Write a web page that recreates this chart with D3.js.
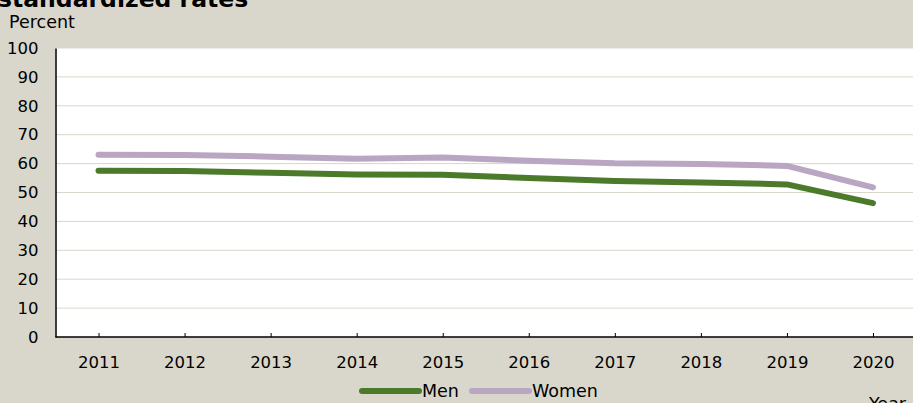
<!DOCTYPE html>
<html>
<head>
<meta charset="utf-8">
<script src="https://cdn.jsdelivr.net/npm/d3@7"></script>
<style>
  body { margin: 0; background: #d9d7cb; }
  svg { display: block; font-family: "DejaVu Sans", sans-serif; }
</style>
</head>
<body>
<svg id="chart" width="913" height="403"></svg>
<script>
const years = ["2011", "2012", "2013", "2014", "2015", "2016", "2017", "2018", "2019", "2020"];
const men = [57.5, 57.4, 56.8, 56.2, 56.1, 55.0, 54.0, 53.5, 52.8, 46.3];
const women = [63.1, 63.0, 62.4, 61.7, 62.1, 61.0, 60.1, 59.9, 59.2, 51.8];
const yTicks = [0, 10, 20, 30, 40, 50, 60, 70, 80, 90, 100];

const seriesNames = ["Men", "Women"];
const seriesColors = ["#4b7a2b", "#b8a6c3"];

const svg = d3.select('#chart');
const width = 913, height = 403;
const margin = { top: 48, left: 55.5, bottom: 66 };
const plotRight = 916;

const xScale = d3.scalePoint()
    .domain(years)
    .range([margin.left, plotRight])
    .padding(0.5);
const yScale = d3.scaleLinear()
    .domain([0, 100])
    .range([height - margin.bottom, margin.top]);

// background and plot area
svg.append('rect').attr('width', width).attr('height', height).attr('fill', '#d9d7cb');
svg.append('rect')
    .attr('x', margin.left).attr('y', margin.top)
    .attr('width', plotRight - margin.left)
    .attr('height', yScale(0) - margin.top)
    .attr('fill', '#ffffff');

// gridlines
svg.append('g')
    .selectAll('line')
    .data(yTicks.filter(d => d > 0))
    .enter()
    .append('line')
    .attr('x1', margin.left).attr('x2', plotRight)
    .attr('y1', d => yScale(d)).attr('y2', d => yScale(d))
    .attr('stroke', '#d9d7cb')
    .attr('stroke-width', 1);

// y axis
const yAxis = d3.axisLeft(yScale).tickValues(yTicks).tickSize(0).tickPadding(17);
const gy = svg.append('g').attr('transform', `translate(${margin.left},0)`).call(yAxis);
gy.select('.domain').attr('stroke', '#000').attr('stroke-width', 1.5);
gy.selectAll('text').attr('font-size', '16.5px').attr('fill', '#000')
    .attr('font-family', '"DejaVu Sans", sans-serif');

// x axis
const xAxis = d3.axisBottom(xScale).tickSize(-4).tickPadding(19);
const gx = svg.append('g').attr('transform', `translate(0,${yScale(0)})`).call(xAxis);
gx.select('.domain').remove();
gx.append('line')
    .attr('x1', margin.left).attr('x2', plotRight)
    .attr('stroke', '#000').attr('stroke-width', 1.5);
gx.selectAll('.tick line').attr('stroke', '#000');
gx.selectAll('text').attr('font-size', '16.5px').attr('fill', '#000')
    .attr('font-family', '"DejaVu Sans", sans-serif');

// lines
const line = d3.line()
    .x((d, i) => xScale(years[i]))
    .y(d => yScale(d));

[men, women].forEach((vals, k) => {
    svg.append('path')
        .datum(vals)
        .attr('d', line)
        .attr('fill', 'none')
        .attr('stroke', seriesColors[k])
        .attr('stroke-width', 6)
        .attr('stroke-linecap', 'round')
        .attr('stroke-linejoin', 'round');
});

// title, cut off at the top
svg.append('text')
    .attr('x', -2).attr('y', 7)
    .attr('font-size', '23.5px').attr('font-weight', 'bold')
    .attr('fill', '#000')
    .text('standardized rates');

svg.append('text')
    .attr('x', 9).attr('y', 28)
    .attr('font-size', '17.5px')
    .attr('fill', '#000')
    .text('Percent');

svg.append('text')
    .attr('x', 869).attr('y', 410)
    .attr('font-size', '17.5px')
    .attr('fill', '#000')
    .text('Year');

// legend
const legendX = [362, 472];
const legend = svg.append('g');
seriesNames.forEach((name, k) => {
    legend.append('line')
        .attr('x1', legendX[k]).attr('x2', legendX[k] + 57)
        .attr('y1', 391).attr('y2', 391)
        .attr('stroke', seriesColors[k])
        .attr('stroke-width', 6)
        .attr('stroke-linecap', 'round');
    legend.append('text')
        .attr('x', legendX[k] + 60).attr('y', 397)
        .attr('font-size', '17.5px')
        .attr('fill', '#000')
        .text(name);
});
</script>
</body>
</html>
